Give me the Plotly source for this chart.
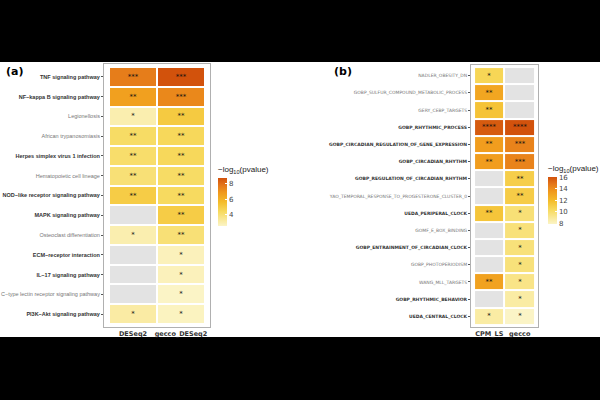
import plotly.graph_objects as go

# ---------------- data: panel (a) ----------------
a_terms = ["TNF signaling pathway", "NF\u2212kappa B signaling pathway", "Legionellosis",
           "African trypanosomiasis", "Herpes simplex virus 1 infection",
           "Hematopoietic cell lineage", "NOD\u2212like receptor signaling pathway",
           "MAPK signaling pathway", "Osteoclast differentiation", "ECM\u2212receptor interaction",
           "IL\u221217 signaling pathway", "C\u2212type lectin receptor signaling pathway",
           "PI3K\u2212Akt signaling pathway"]
a_methods = ["DESeq2", "gecco_DESeq2"]
a_deseq2 = [7.6, 6.6, 3.0, 4.3, 4.2, 4.0, 5.0, None, 3.0, None, None, None, 3.2]
a_gecco = [8.7, 7.3, 5.1, 4.5, 4.5, 4.3, 4.4, 5.0, 4.0, 2.8, 2.8, 2.6, 2.7]
a_star_deseq2 = ["***", "**", "*", "**", "**", "**", "**", "", "*", "", "", "", "*"]
a_star_gecco = ["***", "***", "**", "**", "**", "**", "**", "**", "**", "*", "*", "*", "*"]
a_bold = ["TNF signaling pathway", "NF\u2212kappa B signaling pathway",
          "Herpes simplex virus 1 infection", "NOD\u2212like receptor signaling pathway",
          "MAPK signaling pathway", "ECM\u2212receptor interaction",
          "IL\u221217 signaling pathway", "PI3K\u2212Akt signaling pathway"]

# ---------------- data: panel (b) ----------------
b_terms = ["NADLER_OBESITY_DN", "GOBP_SULFUR_COMPOUND_METABOLIC_PROCESS", "GERY_CEBP_TARGETS",
           "GOBP_RHYTHMIC_PROCESS", "GOBP_CIRCADIAN_REGULATION_OF_GENE_EXPRESSION",
           "GOBP_CIRCADIAN_RHYTHM", "GOBP_REGULATION_OF_CIRCADIAN_RHYTHM",
           "YAO_TEMPORAL_RESPONSE_TO_PROGESTERONE_CLUSTER_0", "UEDA_PERIPERAL_CLOCK",
           "GOMF_E_BOX_BINDING", "GOBP_ENTRAINMENT_OF_CIRCADIAN_CLOCK", "GOBP_PHOTOPERIODISM",
           "WANG_MLL_TARGETS", "GOBP_RHYTHMIC_BEHAVIOR", "UEDA_CENTRAL_CLOCK"]
b_methods = ["CPM_LS", "gecco"]
b_cpm = [10.6, 13.0, 11.6, 15.8, 13.4, 13.4, None, None, 11.5, None, None, None, 13.2, None, 8.7]
b_gecco = [None, None, None, 16.1, 14.4, 14.4, 11.0, 11.1, 9.8, 9.7, 9.7, 9.7, 9.4, 8.7, 7.9]
b_star_cpm = ["*", "**", "**", "****", "**", "**", "", "", "**", "", "", "", "**", "", "*"]
b_star_gecco = ["", "", "", "****", "***", "***", "**", "**", "*", "*", "*", "*", "*", "*", "*"]
b_bold = ["GOBP_RHYTHMIC_PROCESS", "GOBP_CIRCADIAN_REGULATION_OF_GENE_EXPRESSION",
          "GOBP_CIRCADIAN_RHYTHM", "GOBP_REGULATION_OF_CIRCADIAN_RHYTHM",
          "UEDA_PERIPERAL_CLOCK", "GOBP_ENTRAINMENT_OF_CIRCADIAN_CLOCK",
          "GOBP_RHYTHMIC_BEHAVIOR", "UEDA_CENTRAL_CLOCK"]

# ---------------- style ----------------
W, H = 600, 400
FONT = "DejaVu Sans"
LFONT = "Liberation Sans"
cscale = [[0.0, "#FBF4C6"], [0.3, "#F7DA5E"], [0.5, "#F4BC2A"], [0.7, "#F0981C"],
          [0.85, "#E4761A"], [1.0, "#D2520C"]]
NA_COL = "#E3E3E3"


def px_x(p):
    return p / W


def px_y(p):
    return 1 - p / H


def fmt_labels(terms, bold):
    out = []
    for t in terms:
        if t in bold:
            out.append("<b>%s</b>" % t)
        else:
            out.append("<span style='color:#777777'>%s</span>" % t)
    return out


def transpose(cols):
    return [list(r) for r in zip(*cols)]


fig = go.Figure()


def add_panel(xa, ya, terms, methods, cols, stars, bold, cb_x, cb_bottom, cb_len):
    n = len(terms)
    z = transpose(cols)
    txt = transpose(stars)
    na = [[1 if v is None else None for v in row] for row in z]
    xs = list(range(len(methods)))
    ys = list(range(n))
    fig.add_trace(go.Heatmap(z=na, x=xs, y=ys, xaxis=xa, yaxis=ya,
                             colorscale=[[0, NA_COL], [1, NA_COL]], showscale=False,
                             xgap=2, ygap=2, hoverinfo="skip"))
    fig.add_trace(go.Heatmap(z=z, x=xs, y=ys, xaxis=xa, yaxis=ya, text=txt,
                             texttemplate="%{text}",
                             textfont=dict(size=7, color="#111111", family=FONT),
                             colorscale=cscale, xgap=2, ygap=2,
                             colorbar=dict(
                                 title=dict(text="\u2212log<sub>10</sub>(pvalue)", side="top",
                                            font=dict(size=8, color="#222222", family=LFONT)),
                                 x=cb_x, xanchor="left", y=cb_bottom, yanchor="bottom",
                                 lenmode="pixels", len=cb_len, thickness=9,
                                 xpad=0, ypad=0,
                                 outlinewidth=0, ticks="inside", ticklen=2,
                                 tickcolor="white", dtick=2,
                                 tickfont=dict(size=7, color="#444444", family=FONT))))
    return fmt_labels(terms, bold)


la = add_panel("x", "y", a_terms, a_methods, [a_deseq2, a_gecco],
               [a_star_deseq2, a_star_gecco], a_bold, px_x(218), px_y(226), 63)
lb = add_panel("x2", "y2", b_terms, b_methods, [b_cpm, b_gecco],
               [b_star_cpm, b_star_gecco], b_bold, px_x(548), px_y(224), 62)

axis_common = dict(showgrid=False, zeroline=False, showline=True, linecolor="#B0B0B0",
                   linewidth=1, mirror=True, automargin=False)

fig.update_layout(
    width=W, height=H, margin=dict(l=0, r=0, t=0, b=0, autoexpand=False),
    paper_bgcolor="black", plot_bgcolor="white",
    font=dict(family=FONT, color="#333333"),
    xaxis=dict(domain=[px_x(104), px_x(210)], range=[-0.604, 1.604], anchor="y",
               tickvals=[0, 1], ticktext=["<b>%s</b>" % m for m in a_methods], tickangle=0,
               tickfont=dict(size=6.5, color="#333333"), ticks="", **axis_common),
    yaxis=dict(domain=[px_y(327), px_y(64)], range=[12.652, -0.652], anchor="x",
               tickvals=list(range(len(a_terms))), ticktext=la,
               tickfont=dict(size=5.5, color="#333333", family=LFONT), ticks="outside",
               ticklen=2, tickcolor="#555555", **axis_common),
    xaxis2=dict(domain=[px_x(471), px_x(538)], range=[-0.6, 1.6], anchor="y2",
                tickvals=[0, 1], ticktext=["<b>%s</b>" % m for m in b_methods], tickangle=0,
                tickfont=dict(size=6.5, color="#333333"), ticks="", **axis_common),
    yaxis2=dict(domain=[px_y(327), px_y(65)], range=[14.62, -0.62], anchor="x2",
                tickvals=list(range(len(b_terms))), ticktext=lb,
                tickfont=dict(size=4.5, color="#333333"), ticks="outside", ticklen=2,
                tickcolor="#555555", **axis_common),
    shapes=[dict(type="rect", xref="paper", yref="paper", x0=0, x1=1,
                 y0=px_y(337), y1=px_y(62), fillcolor="white", line=dict(width=0),
                 layer="below")],
    annotations=[
        dict(text="<b>(a)</b>", x=px_x(4), y=px_y(72), xref="paper", yref="paper",
             xanchor="left", yanchor="middle", showarrow=False,
             font=dict(size=11, color="black", family=FONT)),
        dict(text="<b>(b)</b>", x=px_x(332), y=px_y(72), xref="paper", yref="paper",
             xanchor="left", yanchor="middle", showarrow=False,
             font=dict(size=11, color="black", family=FONT)),
    ],
)

fig.write_html("out.html")
